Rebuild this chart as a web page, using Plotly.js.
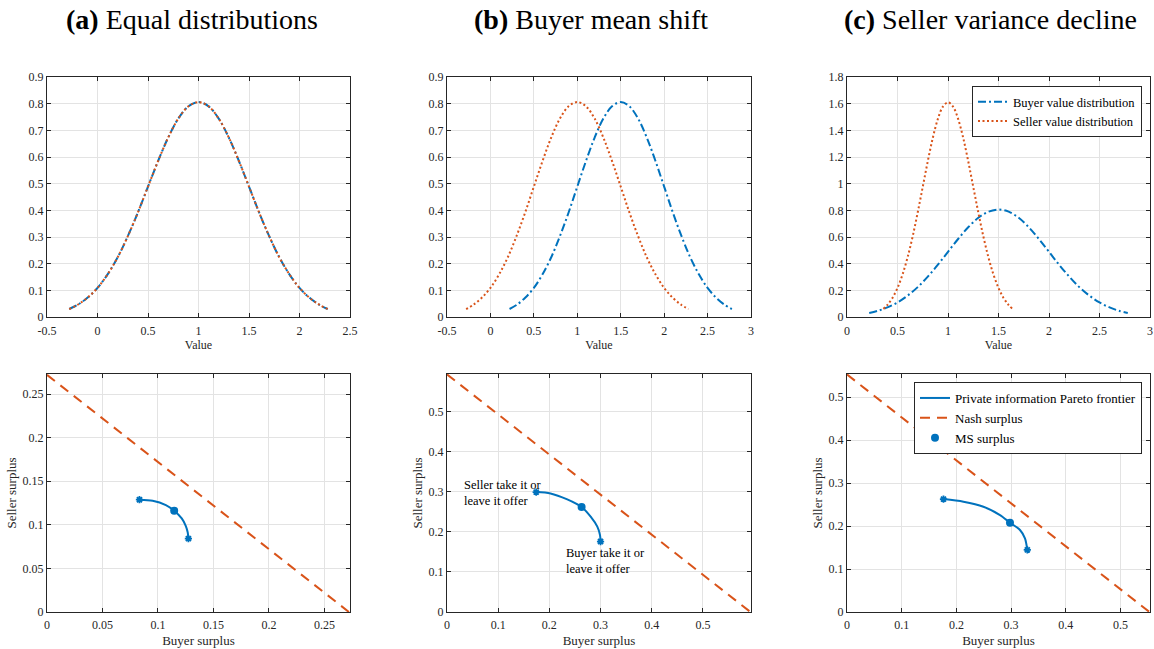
<!DOCTYPE html>
<html>
<head>
<meta charset="utf-8">
<script src="https://cdn.plot.ly/plotly-3.0.1.min.js"></script>
<style>
html,body{margin:0;padding:0;background:#fff;}
#chart{width:1154px;height:649px;}
</style>
</head>
<body>
<div id="chart"></div>
<script>
// ---------- Data ----------
// Panel titles
const panelTitles = ["<b>(a)</b> Equal distributions", "<b>(b)</b> Buyer mean shift", "<b>(c)</b> Seller variance decline"];

// Value density curves (top row)
const valueX_mean1 = [-0.28,-0.2,-0.1,0,0.1,0.2,0.3,0.4,0.5,0.6,0.7,0.8,0.9,1.0,1.1,1.2,1.3,1.4,1.5,1.6,1.7,1.8,1.9,2.0,2.1,2.2,2.28];
const valueX_mean15 = [0.22,0.3,0.4,0.5,0.6,0.7,0.8,0.9,1.0,1.1,1.2,1.3,1.4,1.5,1.6,1.7,1.8,1.9,2.0,2.1,2.2,2.3,2.4,2.5,2.6,2.7,2.78];
const densityWide = [0.030,0.045,0.072,0.109,0.160,0.224,0.303,0.392,0.489,0.585,0.673,0.744,0.790,0.806,0.790,0.744,0.673,0.585,0.489,0.392,0.303,0.224,0.160,0.109,0.072,0.045,0.030];
const valueX_narrow = [0.36,0.40,0.45,0.50,0.55,0.60,0.65,0.70,0.75,0.80,0.85,0.90,0.95,1.00,1.05,1.10,1.15,1.20,1.25,1.30,1.35,1.40,1.45,1.50,1.55,1.60,1.64];
const densityNarrow = [0.061,0.090,0.143,0.218,0.319,0.448,0.604,0.784,0.976,1.169,1.345,1.486,1.578,1.610,1.578,1.486,1.345,1.169,0.976,0.784,0.604,0.448,0.319,0.218,0.143,0.090,0.061];

// Surplus panels (bottom row)
const frontierA_x = [0.0833,0.0952,0.1071,0.1146,0.1214,0.1250,0.1268,0.1274];
const frontierA_y = [0.1288,0.1277,0.1227,0.1162,0.1073,0.0988,0.0912,0.0842];
const msA = {x:[0.1146], y:[0.1162]};
const nashA = 0.272;

const frontierB_x = [0.1743,0.2023,0.2350,0.2630,0.2807,0.2937,0.2990,0.3000];
const frontierB_y = [0.2993,0.2960,0.2810,0.2620,0.2380,0.2131,0.1920,0.1758];
const msB = {x:[0.2630], y:[0.2620]};
const nashB = 0.593;

const frontierC_x = [0.1764,0.2129,0.2494,0.2798,0.2980,0.3163,0.3254,0.3297];
const frontierC_y = [0.2628,0.2566,0.2450,0.2257,0.2079,0.1909,0.1716,0.1445];
const msC = {x:[0.2980], y:[0.2079]};
const nashC = 0.553;

// Tick labels
const xTicksTopAB = [-0.5,0,0.5,1,1.5,2,2.5,3];
const xTickTextTopAB = ["-0.5","0","0.5","1","1.5","2","2.5","3"];

// ---------- Styles ----------
const BLUE = "#0072BD", ORANGE = "#D95319";
const FONT = "Liberation Serif";
const DASHDOT = "8px,3px,2px,3px";
const DOTTED = "2px,2.5px";
const DASHED = "10px,7px";

function nashX(t){ return [0, t]; }
function nashY(t){ return [t, 0]; }
function ends(arr){ return [arr[0], arr[arr.length-1]]; }

const traces = [];
// --- top row ---
const topSets = [
  {xa:"x", ya:"y", bx:valueX_mean1, sx:valueX_mean1, sy:densityWide, leg:false},
  {xa:"x2", ya:"y2", bx:valueX_mean15, sx:valueX_mean1, sy:densityWide, leg:false},
  {xa:"x3", ya:"y3", bx:valueX_mean15, sx:valueX_narrow, sy:densityNarrow, leg:true}
];
topSets.forEach(s => {
  traces.push({x:s.bx, y:densityWide, xaxis:s.xa, yaxis:s.ya, mode:"lines", name:"Buyer value distribution",
    line:{color:BLUE, width:2, dash:DASHDOT, shape:"spline"}, showlegend:s.leg, legend:"legend"});
  traces.push({x:s.sx, y:s.sy, xaxis:s.xa, yaxis:s.ya, mode:"lines", name:"Seller value distribution",
    line:{color:ORANGE, width:2, dash:DOTTED, shape:"spline"}, showlegend:s.leg, legend:"legend"});
});
// --- bottom row ---
const botSets = [
  {xa:"x4", ya:"y4", fx:frontierA_x, fy:frontierA_y, ms:msA, n:nashA, leg:false},
  {xa:"x5", ya:"y5", fx:frontierB_x, fy:frontierB_y, ms:msB, n:nashB, leg:false},
  {xa:"x6", ya:"y6", fx:frontierC_x, fy:frontierC_y, ms:msC, n:nashC, leg:true}
];
botSets.forEach(s => {
  traces.push({x:s.fx, y:s.fy, xaxis:s.xa, yaxis:s.ya, mode:"lines", name:"Private information Pareto frontier",
    line:{color:BLUE, width:2, shape:"spline", smoothing:0.8}, showlegend:s.leg, legend:"legend2"});
  traces.push({x:nashX(s.n), y:nashY(s.n), xaxis:s.xa, yaxis:s.ya, mode:"lines", name:"Nash surplus",
    line:{color:ORANGE, width:2, dash:DASHED}, showlegend:s.leg, legend:"legend2"});
  traces.push({x:s.ms.x, y:s.ms.y, xaxis:s.xa, yaxis:s.ya, mode:"markers", name:"MS surplus",
    marker:{color:BLUE, size:8, symbol:"circle"}, showlegend:s.leg, legend:"legend2"});
  traces.push({x:ends(s.fx), y:ends(s.fy), xaxis:s.xa, yaxis:s.ya, mode:"markers", name:"ends",
    marker:{color:BLUE, size:6, symbol:"asterisk-open", line:{color:BLUE, width:1.8}}, showlegend:false});
});

// ---------- Layout ----------
const W = 1154, H = 649;
const colX = [[47,350],[447,751],[847,1150]];
const topY = [77,317], botY = [374,612];
function dx(c){ return [c[0]/W, c[1]/W]; }
function dy(r){ return [1 - r[1]/H, 1 - r[0]/H]; }

function axisBase(extra){
  return Object.assign({
    showline:true, mirror:"ticks", linecolor:"#262626", linewidth:1,
    ticks:"inside", ticklen:4, tickwidth:1, tickcolor:"#262626",
    showgrid:true, gridcolor:"#e3e3e3", gridwidth:1, zeroline:false,
    tickfont:{family:FONT, size:12, color:"#262626"},
    fixedrange:true
  }, extra);
}
const xTitleTop = {text:"Value", font:{family:FONT, size:12, color:"#262626"}, standoff:3};
const xTitleBot = {text:"Buyer surplus", font:{family:FONT, size:13, color:"#262626"}, standoff:4};
const yTitleBot = {text:"Seller surplus", font:{family:FONT, size:13, color:"#262626"}, standoff:3};

const layout = {
  width:W, height:H, margin:{l:0,r:0,t:0,b:0},
  paper_bgcolor:"#fff", plot_bgcolor:"#fff",
  font:{family:FONT, color:"#262626"},
  xaxis: axisBase({domain:dx(colX[0]), anchor:"y", range:[-0.5,2.5], tickvals:xTicksTopAB, ticktext:xTickTextTopAB, ticklabelstandoff:3, title:xTitleTop}),
  yaxis: axisBase({domain:dy(topY), anchor:"x", range:[0,0.9], dtick:0.1}),
  xaxis2: axisBase({domain:dx(colX[1]), anchor:"y2", range:[-0.5,3], tickvals:xTicksTopAB, ticktext:xTickTextTopAB, ticklabelstandoff:3, title:xTitleTop}),
  yaxis2: axisBase({domain:dy(topY), anchor:"x2", range:[0,0.9], dtick:0.1}),
  xaxis3: axisBase({domain:dx(colX[2]), anchor:"y3", range:[0,3], dtick:0.5, ticklabelstandoff:3, title:xTitleTop}),
  yaxis3: axisBase({domain:dy(topY), anchor:"x3", range:[0,1.8], dtick:0.2}),
  xaxis4: axisBase({domain:dx(colX[0]), anchor:"y4", range:[0,nashA+0.001], dtick:0.05, ticklabelstandoff:2, title:xTitleBot}),
  yaxis4: axisBase({domain:dy(botY), anchor:"x4", range:[0,nashA+0.001], dtick:0.05, title:yTitleBot}),
  xaxis5: axisBase({domain:dx(colX[1]), anchor:"y5", range:[0,nashB+0.001], dtick:0.1, ticklabelstandoff:2, title:xTitleBot}),
  yaxis5: axisBase({domain:dy(botY), anchor:"x5", range:[0,nashB+0.001], dtick:0.1, title:yTitleBot}),
  xaxis6: axisBase({domain:dx(colX[2]), anchor:"y6", range:[0,nashC+0.001], dtick:0.1, ticklabelstandoff:2, title:xTitleBot}),
  yaxis6: axisBase({domain:dy(botY), anchor:"x6", range:[0,nashC+0.001], dtick:0.1, title:yTitleBot}),
  legend:{x:1142/W, y:1-86/H, xanchor:"right", yanchor:"top", bgcolor:"#fff", bordercolor:"#262626", borderwidth:1,
    font:{family:FONT, size:12.5, color:"#000"}, tracegroupgap:0, itemwidth:30},
  legend2:{x:1142/W, y:1-382/H, xanchor:"right", yanchor:"top", bgcolor:"#fff", bordercolor:"#262626", borderwidth:1,
    font:{family:FONT, size:13, color:"#000"}, tracegroupgap:0, itemwidth:30},
  annotations:[
    {xref:"paper", yref:"paper", x:192/W, y:1-19/H, xanchor:"center", yanchor:"middle", showarrow:false,
      text:panelTitles[0], font:{family:FONT, size:28, color:"#000"}},
    {xref:"paper", yref:"paper", x:591/W, y:1-19/H, xanchor:"center", yanchor:"middle", showarrow:false,
      text:panelTitles[1], font:{family:FONT, size:28, color:"#000"}},
    {xref:"paper", yref:"paper", x:990/W, y:1-19/H, xanchor:"center", yanchor:"middle", showarrow:false,
      text:panelTitles[2], font:{family:FONT, size:28, color:"#000"}},
    {xref:"x5", yref:"y5", x:0.029, y:0.298, xanchor:"left", yanchor:"middle", align:"left", showarrow:false,
      text:"Seller take it or<br>leave it offer", font:{family:FONT, size:12.5, color:"#000"}},
    {xref:"x5", yref:"y5", x:0.229, y:0.127, xanchor:"left", yanchor:"middle", align:"left", showarrow:false,
      text:"Buyer take it or<br>leave it offer", font:{family:FONT, size:12.5, color:"#000"}}
  ]
};

Plotly.newPlot("chart", traces, layout, {staticPlot:true, displayModeBar:false});
</script>
</body>
</html>
